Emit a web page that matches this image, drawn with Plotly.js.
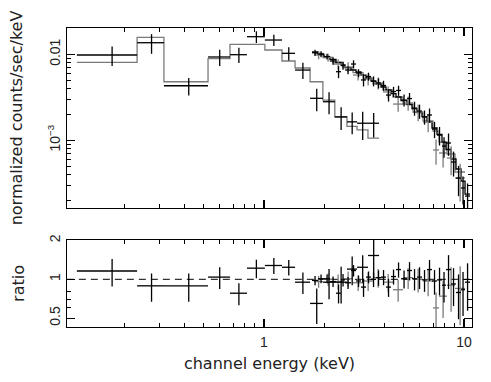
<!DOCTYPE html>
<html>
<head>
<meta charset="utf-8">
<script src="https://cdn.plot.ly/plotly-3.0.1.min.js"></script>
<style>
  html, body { margin: 0; padding: 0; background: #fff; }
  #spec { width: 491px; height: 382px; }
</style>
</head>
<body>
<div id="spec"></div>
<script>
// soft band spectrum: bin edges (keV), data, 1-sigma errors, folded model
const leEdges = [0.116, 0.232, 0.316, 0.525, 0.676, 0.822, 1.01, 1.23, 1.43, 1.70, 1.97, 2.26, 2.60, 2.92, 3.31, 3.76];
const leData  = [0.00982, 0.01364, 0.00431, 0.00931, 0.0099, 0.01603, 0.01466, 0.01027, 0.00656, 0.00308, 0.00281, 0.00187, 0.00164, 0.00158, 0.00158];
const leErr   = [0.0025, 0.0035, 0.001, 0.002, 0.002, 0.0025, 0.0022, 0.0018, 0.0014, 0.0009, 0.0008, 0.00055, 0.00046, 0.00057, 0.0005];
const leModel = [0.00807, 0.01578, 0.0048, 0.00893, 0.01306, 0.01306, 0.01122, 0.00836, 0.00693, 0.0048, 0.00294, 0.00188, 0.00145, 0.00132, 0.00106];
const leRatio = [1.16, 0.89, 0.89, 1.04, 0.78, 1.22, 1.28, 1.24, 0.95, 0.65, 0.95, 0.95, 1.2, 1.24, 1.53];
const leRatioErr = [0.28, 0.22, 0.22, 0.2, 0.15, 0.2, 0.18, 0.17, 0.18, 0.2, 0.25, 0.3, 0.3, 0.3, 0.5];

// hard band, first detector (black)
const haEdges = [1.738, 1.862, 1.995, 2.138, 2.291, 2.427, 2.541, 2.723, 2.884, 3.055, 3.236, 3.428, 3.631, 3.846, 4.074, 4.315, 4.571, 4.842, 5.188, 5.495, 5.821, 6.166, 6.531, 6.918, 7.328, 7.762, 8.128, 8.610, 9.120, 9.661, 10.12, 10.72];
const haData  = [0.01044, 0.01008, 0.00943, 0.00836, 0.00628, 0.00741, 0.00657, 0.00771, 0.00606, 0.00503, 0.00552, 0.00489, 0.00464, 0.00434, 0.00336, 0.00369, 0.0038, 0.00294, 0.00306, 0.00237, 0.00219, 0.00187, 0.00197, 0.00135, 0.00115, 0.000858, 0.00093, 0.000559, 0.000364, 0.000279, 0.000225];
const haErr   = [0.00084, 0.00081, 0.00075, 0.00078, 0.001, 0.0008, 0.0007, 0.00082, 0.00065, 0.0008, 0.00059, 0.00065, 0.00062, 0.00058, 0.00054, 0.0005, 0.00051, 0.00047, 0.00049, 0.00044, 0.00041, 0.00035, 0.00037, 0.00029, 0.00028, 0.00023, 0.00027, 0.00018, 0.00014, 0.0001, 0.00009];
const haModel = [0.01064, 0.00995, 0.0093, 0.0087, 0.00803, 0.00751, 0.00702, 0.00657, 0.00623, 0.00574, 0.0053, 0.00489, 0.00452, 0.00417, 0.00385, 0.0035, 0.00319, 0.0029, 0.00261, 0.00234, 0.0021, 0.00189, 0.00165, 0.00139, 0.00117, 0.000955, 0.000782, 0.000606, 0.000464, 0.000336, 0.000237];
const haRatio = [0.98, 1.01, 1.01, 0.96, 0.78, 0.99, 0.94, 1.17, 0.97, 0.87, 1.04, 1.0, 1.03, 1.04, 0.87, 1.05, 1.19, 1.01, 1.17, 1.01, 1.04, 0.99, 1.19, 0.97, 0.99, 0.9, 1.19, 0.92, 0.79, 0.83, 0.95];
const haRatioErr = [0.08, 0.08, 0.08, 0.09, 0.13, 0.11, 0.1, 0.12, 0.1, 0.14, 0.11, 0.13, 0.14, 0.14, 0.14, 0.14, 0.16, 0.16, 0.19, 0.19, 0.2, 0.19, 0.22, 0.21, 0.24, 0.24, 0.35, 0.3, 0.3, 0.31, 0.38];

// hard band, second detector (grey)
const hbEdges = [1.778, 1.972, 2.213, 2.483, 2.786, 3.126, 3.508, 3.936, 4.416, 4.955, 5.559, 6.237, 6.998, 7.499, 8.222, 9.016, 10.12];
const hbData  = [0.00981, 0.00918, 0.00771, 0.00712, 0.00574, 0.00516, 0.00464, 0.00365, 0.00264, 0.00272, 0.00213, 0.00163, 0.000771, 0.000712, 0.000622, 0.000364];
const hbErr   = [0.00105, 0.001, 0.00103, 0.00095, 0.00077, 0.00083, 0.00074, 0.00058, 0.00049, 0.00051, 0.00046, 0.00039, 0.00025, 0.00023, 0.00023, 0.00017];
const hbModel = [0.01022, 0.00918, 0.00803, 0.00702, 0.00614, 0.0053, 0.00452, 0.00385, 0.00319, 0.00264, 0.00213, 0.00168, 0.00128, 0.000955, 0.000693, 0.000428];
const hbRatio = [0.96, 1.0, 0.96, 1.01, 0.94, 0.97, 1.03, 0.95, 0.83, 1.03, 1.0, 0.97, 0.6, 0.74, 0.9, 0.85];
const hbRatioErr = [0.1, 0.11, 0.13, 0.14, 0.13, 0.16, 0.17, 0.15, 0.16, 0.19, 0.21, 0.23, 0.19, 0.24, 0.34, 0.41];

const BLACK = '#000';
const GREY = '#7a7a7a';

function centres(edges) {
  return edges.slice(0, -1).map((lo, i) => (lo + edges[i + 1]) / 2);
}
function halfWidths(edges) {
  return edges.slice(0, -1).map((lo, i) => (edges[i + 1] - lo) / 2);
}

// step line through contiguous bins
function modelTrace(edges, model, color) {
  return {
    x: edges, y: model.concat([model[model.length - 1]]),
    mode: 'lines', line: { shape: 'hv', color: color, width: 1.3 },
    xaxis: 'x', yaxis: 'y', hoverinfo: 'skip'
  };
}

// data crosses: horizontal bar = bin width, vertical bar = error
function crossTrace(edges, vals, errs, color, xa, ya) {
  return {
    x: centres(edges), y: vals,
    mode: 'markers', marker: { size: 1, color: 'rgba(0,0,0,0)' },
    error_x: { type: 'data', array: halfWidths(edges), visible: true, width: 0, thickness: 1.3, color: color },
    error_y: { type: 'data', array: errs, visible: true, width: 0, thickness: 1.3, color: color },
    xaxis: xa, yaxis: ya
  };
}

const traces = [
  modelTrace(leEdges, leModel, GREY),
  modelTrace(hbEdges, hbModel, GREY),
  modelTrace(haEdges, haModel, BLACK),
  crossTrace(hbEdges, hbData, hbErr, GREY, 'x', 'y'),
  crossTrace(leEdges, leData, leErr, BLACK, 'x', 'y'),
  crossTrace(haEdges, haData, haErr, BLACK, 'x', 'y'),
  {
    x: [0.09, 12], y: [1, 1], mode: 'lines',
    line: { color: BLACK, width: 1, dash: '7px,5px' },
    xaxis: 'x2', yaxis: 'y2', hoverinfo: 'skip'
  },
  crossTrace(hbEdges, hbRatio, hbRatioErr, GREY, 'x2', 'y2'),
  crossTrace(leEdges, leRatio, leRatioErr, BLACK, 'x2', 'y2'),
  crossTrace(haEdges, haRatio, haRatioErr, BLACK, 'x2', 'y2')
];

const tickFont = { family: 'Liberation Sans, Arial, sans-serif', size: 14, color: '#222' };
const titleFont = { family: 'DejaVu Sans, sans-serif', size: 16, color: '#222' };

const minorE = [0.2, 0.3, 0.4, 0.5, 0.6, 0.7, 0.8, 0.9, 2, 3, 4, 5, 6, 7, 8, 9];
const frame = {
  showline: true, linecolor: BLACK, linewidth: 1.3, mirror: 'allticks',
  ticks: 'inside', ticklen: 8, tickwidth: 1.2, tickcolor: BLACK,
  showgrid: false, zeroline: false, tickfont: tickFont
};

const xCommon = Object.assign({}, frame, {
  type: 'log', range: [-0.985, 1.04],
  tickmode: 'array', tickvals: [1, 10], ticktext: ['1', '10'],
  minor: { tickmode: 'array', tickvals: minorE, ticks: 'inside', ticklen: 4, tickwidth: 1, tickcolor: BLACK }
});

const layout = {
  width: 491, height: 382,
  margin: { l: 67, r: 19, t: 28, b: 55 },
  paper_bgcolor: '#fff', plot_bgcolor: '#fff',
  showlegend: false,
  xaxis: Object.assign({}, xCommon, { anchor: 'y', showticklabels: false }),
  xaxis2: Object.assign({}, xCommon, {
    anchor: 'y2', ticklabelstandoff: 2,
    title: { text: 'channel energy (keV)', font: titleFont, standoff: 8 }
  }),
  yaxis: Object.assign({}, frame, {
    type: 'log', range: [-3.787, -1.694], domain: [0.398, 1], anchor: 'x',
    tickmode: 'array', tickvals: [0.001, 0.01], ticktext: ['10<sup>\u22123</sup>', '0.01'],
    tickangle: -90,
    minor: { tickmode: 'array', tickvals: [2e-4, 3e-4, 4e-4, 5e-4, 6e-4, 7e-4, 8e-4, 9e-4, 2e-3, 3e-3, 4e-3, 5e-3, 6e-3, 7e-3, 8e-3, 9e-3, 0.02],
             ticks: 'inside', ticklen: 4, tickwidth: 1, tickcolor: BLACK },
    title: { text: 'normalized counts/sec/keV', font: titleFont, standoff: 18 }
  }),
  yaxis2: Object.assign({}, frame, {
    type: 'log', range: [-0.370, 0.305], domain: [0, 0.291], anchor: 'x2',
    tickmode: 'array', tickvals: [0.5, 1, 2], ticktext: ['0.5', '1', '2'],
    tickangle: -90,
    minor: { tickmode: 'array', tickvals: [0.6, 0.7, 0.8], ticks: 'inside', ticklen: 4, tickwidth: 1, tickcolor: BLACK },
    title: { text: 'ratio', font: titleFont, standoff: 18 }
  })
};

Plotly.newPlot('spec', traces, layout, { displayModeBar: false, staticPlot: true });
</script>
</body>
</html>
